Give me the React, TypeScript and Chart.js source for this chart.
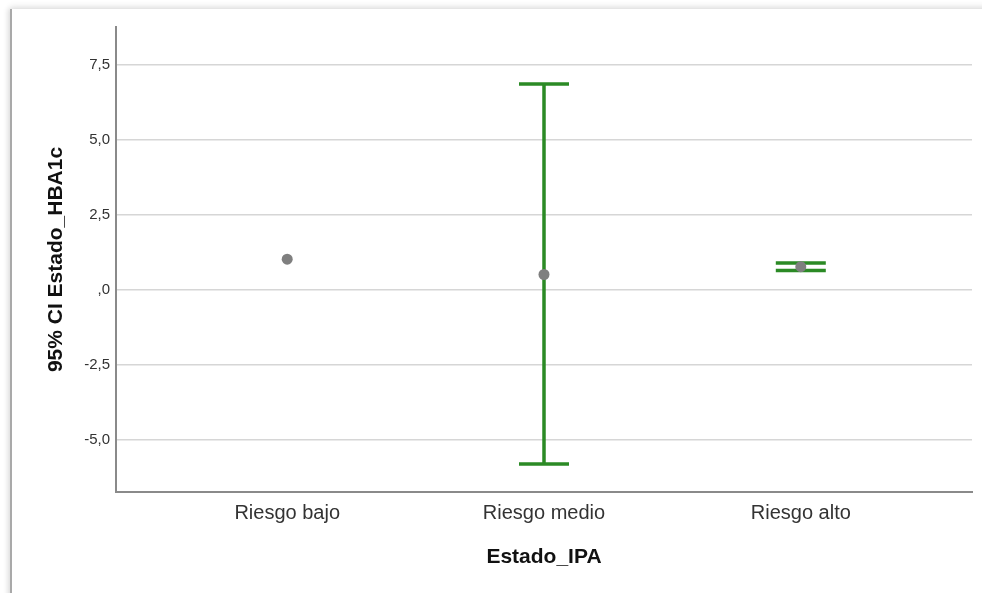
import React, { useEffect, useRef } from "react";
import { Chart, registerables } from "chart.js";

Chart.register(...registerables);

// Groups of Estado_IPA and the 95% CI of Estado_HBA1c per group
const categories = ["Riesgo bajo", "Riesgo medio", "Riesgo alto"];
const means = [1.03, 0.52, 0.78];
const lowerCI: (number | null)[] = [null, -5.8, 0.65];
const upperCI: (number | null)[] = [null, 6.87, 0.9];

const yTickValues = [-5, -2.5, 0, 2.5, 5, 7.5];
const yTickLabels = ["-5,0", "-2,5", ",0", "2,5", "5,0", "7,5"];

const GREEN = "#2b8a25";
const FONT = "Liberation Sans, Arial, sans-serif";

// Draws the whiskers and caps of each confidence interval under the mean dots
const errorBarPlugin = {
  id: "errorBars",
  beforeDatasetsDraw(chart: any) {
    const { ctx, scales } = chart;
    const xs = scales.x;
    const ys = scales.y;
    const capHalf = 25;
    ctx.save();
    ctx.strokeStyle = GREEN;
    ctx.lineWidth = 3.5;
    ctx.lineCap = "butt";
    categories.forEach((_, i) => {
      const lo = lowerCI[i];
      const hi = upperCI[i];
      if (lo == null || hi == null) return;
      const x = xs.getPixelForValue(i);
      const yLo = ys.getPixelForValue(lo);
      const yHi = ys.getPixelForValue(hi);
      ctx.beginPath();
      ctx.moveTo(x, yLo);
      ctx.lineTo(x, yHi);
      ctx.moveTo(x - capHalf, yLo);
      ctx.lineTo(x + capHalf, yLo);
      ctx.moveTo(x - capHalf, yHi);
      ctx.lineTo(x + capHalf, yHi);
      ctx.stroke();
    });
    ctx.restore();
  },
};

export default function App() {
  const canvasRef = useRef<HTMLCanvasElement | null>(null);

  useEffect(() => {
    document.body.style.margin = "0";
    const canvas = canvasRef.current;
    if (!canvas) return;
    const chart = new Chart(canvas, {
      type: "scatter",
      data: {
        datasets: [
          {
            data: means.map((m, i) => ({ x: i, y: m })),
            backgroundColor: "#7f7f7f",
            borderColor: "#7f7f7f",
            pointRadius: 5.5,
            pointHoverRadius: 5.5,
            borderWidth: 0,
          },
        ],
      },
      options: {
        responsive: false,
        animation: false,
        events: [],
        layout: { padding: { left: 0, top: 27, right: 10, bottom: 0 } },
        plugins: {
          legend: { display: false },
          tooltip: { enabled: false },
        },
        scales: {
          x: {
            type: "linear",
            min: -2 / 3,
            max: 2 + 2 / 3,
            afterBuildTicks: (scale: any) => {
              scale.ticks = categories.map((_, i) => ({ value: i }));
            },
            afterFit: (scale: any) => {
              scale.height = 101;
            },
            ticks: {
              callback: (v: any) => categories[Number(v)] ?? "",
              color: "#333",
              font: { family: FONT, size: 20 },
              padding: 9,
              maxRotation: 0,
            },
            grid: { display: false, drawTicks: false },
            border: { display: true, color: "#8a8a8a", width: 2 },
            title: {
              display: true,
              text: "Estado_IPA",
              color: "#111",
              font: { family: FONT, size: 21, weight: "bold" },
              padding: { top: 0, bottom: 23 },
            },
          },
          y: {
            type: "linear",
            min: -6.73,
            max: 8.77,
            afterBuildTicks: (scale: any) => {
              scale.ticks = yTickValues.map((v) => ({ value: v }));
            },
            afterFit: (scale: any) => {
              scale.width = 116;
            },
            ticks: {
              callback: (v: any) => {
                const idx = yTickValues.indexOf(Number(v));
                return idx >= 0 ? yTickLabels[idx] : "";
              },
              color: "#333",
              font: { family: FONT, size: 15 },
              padding: 6,
            },
            grid: { color: "#d6d6d6", lineWidth: 1.5, drawTicks: false },
            border: { display: true, color: "#8a8a8a", width: 2 },
            title: {
              display: true,
              text: "95% CI Estado_HBA1c",
              color: "#111",
              font: { family: FONT, size: 21, weight: "bold" },
              padding: { top: 44, bottom: 0 },
            },
          },
        },
      },
      plugins: [errorBarPlugin],
    });
    return () => chart.destroy();
  }, []);

  return (
    <div style={{ position: "relative", width: 982, height: 593, background: "#fff", overflow: "hidden" }}>
      <div
        style={{
          position: "absolute",
          left: 10,
          top: 9,
          width: 990,
          height: 600,
          borderLeft: "2px solid #a9a9a9",
          boxShadow: "0 -3px 6px rgba(0,0,0,0.09), -3px 0 5px rgba(0,0,0,0.08)",
          background: "#fff",
        }}
      />
      <canvas
        ref={canvasRef}
        width={982}
        height={593}
        style={{ position: "absolute", left: 0, top: 0, width: 982, height: 593 }}
      />
    </div>
  );
}
